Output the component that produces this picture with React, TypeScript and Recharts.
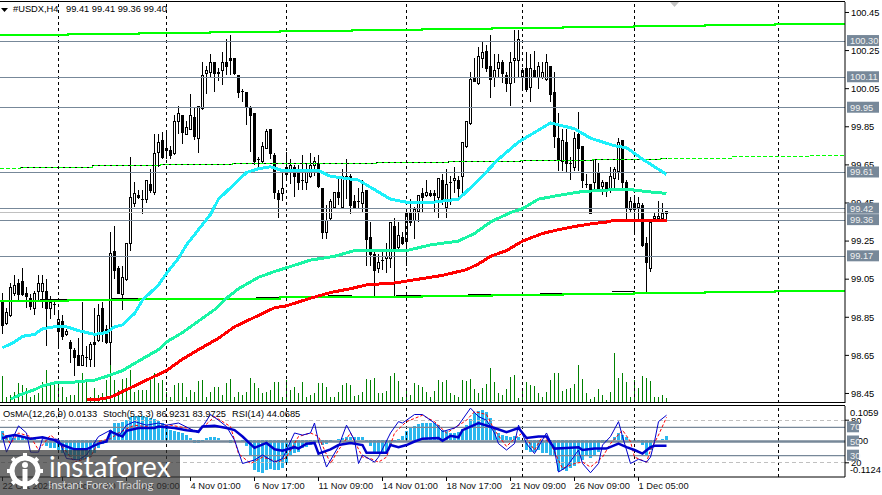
import { ComposedChart, Bar, Line, XAxis, YAxis, ReferenceLine } from "recharts";

const FONT = "Liberation Sans";
const TEXT_SIZE = 9.3;
const SLATE = "#778899";

// H4 candles of #USDX, one entry per bar
const opens = [
  98.93,98.82,98.86,98.98,99.03,99.04,98.98,98.95,98.90,98.99,
  98.99,98.99,98.90,98.92,98.78,98.83,98.76,98.72,98.68,98.65,
  98.60,98.64,98.63,98.72,98.73,98.90,98.79,98.72,99.20,99.11,
  98.97,99.05,99.24,99.45,99.49,99.47,99.47,99.55,99.51,99.72,
  99.78,99.73,99.73,99.71,99.88,99.91,99.81,99.84,99.90,99.79,
  99.95,100.13,100.14,100.19,100.13,100.15,100.19,100.21,100.21,100.12,
  100.04,100.03,99.95,99.92,99.68,99.67,99.74,99.84,99.70,99.50,
  99.50,99.60,99.62,99.64,99.61,99.57,99.56,99.59,99.65,99.66,
  99.53,99.30,99.37,99.43,99.51,99.43,99.59,99.59,99.46,99.46,
  99.45,99.52,99.27,99.18,99.11,99.15,99.16,99.16,99.33,99.22,
  99.27,99.25,99.40,99.36,99.41,99.50,99.49,99.50,99.50,99.48,
  99.57,99.43,99.56,99.57,99.57,99.59,99.75,99.87,100.11,100.08,
  100.21,100.25,100.17,100.11,100.16,100.19,100.12,100.08,100.20,100.20,
  100.11,100.16,100.06,100.15,100.11,100.11,100.10,100.17,100.03,99.79,
  99.67,99.77,99.66,99.64,99.81,99.75,99.55,99.55,99.56,99.61,
  99.54,99.56,99.53,99.58,99.62,99.78,99.56,99.42,99.45,99.43,
  99.44,99.24,99.11,99.37,99.37,99.37,99.41,
];
const highs = [
  98.98,98.90,99.03,99.07,99.05,99.11,99.01,98.97,98.99,99.07,
  99.07,99.05,98.96,98.93,98.89,98.86,98.79,98.73,98.69,98.74,
  98.93,98.70,98.72,98.90,98.92,98.93,98.81,99.30,99.33,99.12,
  99.12,99.24,99.69,99.56,99.52,99.52,99.57,99.63,99.81,99.81,
  99.82,99.82,99.75,99.91,99.96,99.91,99.88,100.02,99.95,99.96,
  100.19,100.17,100.23,100.19,100.16,100.24,100.31,100.33,100.21,100.12,
  100.05,100.03,99.96,99.92,99.69,99.77,99.84,99.84,99.71,99.52,
  99.61,99.72,99.68,99.65,99.65,99.70,99.66,99.71,99.69,99.70,
  99.53,99.44,99.47,99.51,99.59,99.63,99.68,99.60,99.49,99.53,
  99.57,99.52,99.35,99.21,99.18,99.20,99.24,99.35,99.37,99.35,
  99.30,99.41,99.47,99.43,99.49,99.53,99.57,99.52,99.52,99.58,
  99.60,99.63,99.59,99.64,99.59,99.77,99.88,100.14,100.21,100.27,
  100.30,100.28,100.33,100.23,100.23,100.20,100.14,100.24,100.36,100.36,
  100.16,100.24,100.23,100.25,100.19,100.19,100.23,100.17,100.14,99.92,
  99.84,99.84,99.69,99.82,99.93,99.75,99.60,99.55,99.68,99.66,
  99.57,99.56,99.64,99.64,99.79,99.78,99.57,99.48,99.49,99.48,
  99.45,99.27,99.36,99.40,99.46,99.45,99.41,
];
const lows = [
  98.76,98.81,98.85,98.96,98.94,98.96,98.90,98.89,98.86,98.94,
  98.90,98.70,98.84,98.86,98.70,98.73,98.75,98.61,98.54,98.60,
  98.60,98.59,98.59,98.59,98.72,98.72,98.71,98.60,99.05,98.97,
  98.89,99.04,99.20,99.43,99.47,99.39,99.45,99.50,99.49,99.64,
  99.68,99.68,99.68,99.70,99.81,99.76,99.81,99.84,99.78,99.71,
  99.94,100.02,100.11,100.03,100.09,100.07,100.12,100.12,100.12,100.00,
  99.98,99.86,99.72,99.65,99.64,99.66,99.74,99.68,99.47,99.37,
  99.46,99.57,99.55,99.48,99.52,99.52,99.52,99.58,99.59,99.53,
  99.26,99.26,99.36,99.43,99.44,99.42,99.47,99.39,99.42,99.42,
  99.40,99.12,99.12,98.96,99.08,99.10,99.08,99.11,98.96,99.21,
  99.23,99.12,99.33,99.26,99.35,99.40,99.48,99.48,99.40,99.37,
  99.44,99.37,99.44,99.50,99.48,99.48,99.74,99.86,100.09,100.07,
  100.16,100.14,100.00,100.06,100.11,100.08,100.03,99.96,100.08,100.11,
  100.04,100.03,99.98,100.11,100.05,100.10,100.09,99.98,99.74,99.62,
  99.62,99.61,99.57,99.62,99.62,99.53,99.53,99.40,99.52,99.51,
  99.49,99.48,99.50,99.53,99.57,99.52,99.35,99.40,99.28,99.36,
  99.22,98.98,99.09,99.35,99.35,99.35,99.36,
];
const closes = [
  98.81,98.88,99.01,99.02,98.97,98.97,98.96,98.91,98.98,99.03,
  99.03,98.90,98.93,98.92,98.84,98.75,98.78,98.69,98.64,98.60,
  98.65,98.64,98.71,98.71,98.86,98.76,98.72,99.19,99.10,98.98,
  99.06,99.24,99.48,99.50,99.48,99.47,99.57,99.52,99.71,99.77,
  99.69,99.74,99.70,99.88,99.92,99.82,99.85,99.91,99.80,99.96,
  100.12,100.15,100.19,100.13,100.14,100.19,100.17,100.20,100.13,100.03,
  100.04,99.96,99.91,99.67,99.68,99.75,99.83,99.71,99.51,99.47,
  99.53,99.64,99.65,99.59,99.56,99.57,99.61,99.65,99.67,99.54,
  99.30,99.36,99.46,99.51,99.48,99.59,99.59,99.44,99.43,99.46,
  99.51,99.26,99.18,99.10,99.14,99.15,99.17,99.35,99.21,99.28,
  99.24,99.40,99.35,99.42,99.49,99.48,99.51,99.49,99.49,99.58,
  99.46,99.55,99.56,99.58,99.53,99.77,99.88,100.10,100.09,100.22,
  100.24,100.16,100.10,100.15,100.19,100.13,100.08,100.19,100.21,100.31,
  100.15,100.05,100.16,100.11,100.17,100.14,100.19,100.02,99.80,99.68,
  99.78,99.66,99.66,99.79,99.74,99.57,99.55,99.40,99.68,99.52,
  99.56,99.53,99.59,99.63,99.77,99.56,99.43,99.46,99.42,99.45,
  99.23,99.14,99.35,99.38,99.38,99.40,99.40,
];
// tick volume, in the height it has on the panel
const volumes = [
  27,6,8,11,20,18,15,6,8,10,
  21,33,18,21,21,16,6,8,8,20,
  30,21,6,15,8,10,23,40,23,13,
  24,25,33,11,13,13,13,25,30,20,
  23,11,6,18,20,20,6,13,11,22,
  23,6,11,16,16,8,20,24,6,11,
  8,11,25,20,15,10,11,13,21,21,
  6,23,13,16,10,21,6,8,10,20,
  20,16,6,6,11,18,20,18,7,8,
  11,24,23,25,10,10,12,27,30,22,
  6,13,8,20,18,16,11,6,12,23,
  21,23,10,8,6,23,22,24,14,10,
  15,19,35,21,10,8,14,26,28,5,
  15,21,18,17,10,6,11,23,30,30,
  12,14,15,19,38,24,10,4,6,14,
  8,3,11,50,25,30,21,6,23,15,
  27,25,22,6,6,8,5,
];
const osmaValues = [
  0.030,0.017,0.010,0.007,0.010,0.012,0.010,0.004,0.004,0.000,
  0.002,-0.018,-0.022,-0.022,-0.029,-0.039,-0.049,-0.051,-0.057,-0.059,
  -0.059,-0.057,-0.051,-0.039,-0.024,-0.011,-0.008,0.033,0.053,0.053,
  0.058,0.062,0.072,0.074,0.074,0.074,0.072,0.069,0.066,0.061,
  0.053,0.043,0.033,0.028,0.025,0.023,0.017,0.007,-0.008,-0.008,
  -0.003,0.007,0.010,0.010,0.007,0.002,0.000,-0.008,0.000,0.000,
  -0.003,-0.018,-0.049,-0.090,-0.098,-0.101,-0.090,-0.088,-0.090,-0.090,
  -0.085,-0.070,-0.049,-0.039,-0.034,-0.024,-0.019,-0.013,-0.008,-0.006,
  -0.013,-0.010,-0.006,0.000,0.004,0.007,0.010,0.010,0.010,0.010,
  0.010,-0.003,-0.018,-0.039,-0.041,-0.041,-0.039,-0.013,-0.006,0.004,
  0.014,0.028,0.038,0.045,0.051,0.053,0.053,0.053,0.053,0.048,
  0.033,0.028,0.023,0.023,0.025,0.035,0.048,0.066,0.084,0.089,
  0.094,0.086,0.069,0.038,0.023,0.017,0.014,0.012,0.014,0.010,
  -0.003,-0.029,-0.034,-0.037,-0.029,-0.039,-0.039,-0.044,-0.049,-0.095,
  -0.090,-0.095,-0.085,-0.080,-0.065,-0.059,-0.044,-0.054,-0.049,-0.034,
  -0.008,-0.003,0.000,0.012,0.023,0.017,0.010,0.002,-0.006,-0.006,
  -0.013,-0.044,-0.029,-0.003,0.000,0.004,0.013,
];

// moving averages, read at bars along the curve
const fastMaBars = [0,3,5,8,10,13,16,19,23,26,28,30,33,35,39,41,44,46,49,52,54,57,61,64,67,70,74,79,82,89,93,97,102,106,114,119,124,129,137,143,147,153,156,160,166];
const fastMaPrices = [98.69,98.72,98.75,98.76,98.79,98.80,98.80,98.78,98.76,98.77,98.80,98.81,98.87,98.94,99.02,99.08,99.16,99.23,99.31,99.39,99.47,99.53,99.61,99.63,99.64,99.62,99.62,99.62,99.59,99.57,99.52,99.47,99.45,99.45,99.47,99.57,99.68,99.77,99.87,99.84,99.79,99.75,99.74,99.68,99.60];
const midMaBars = [2,4,8,10,14,18,23,26,30,34,39,41,45,49,53,56,59,64,68,71,74,77,83,88,93,101,107,114,118,122,127,130,134,139,145,153,157,161,166];
const midMaPrices = [98.42,98.44,98.47,98.49,98.51,98.51,98.52,98.54,98.57,98.62,98.68,98.72,98.77,98.83,98.89,98.95,99.00,99.06,99.09,99.11,99.13,99.15,99.17,99.20,99.20,99.20,99.23,99.25,99.29,99.35,99.40,99.42,99.47,99.49,99.51,99.52,99.52,99.51,99.50];
const slowMaBars = [21,24,27,31,35,39,41,45,49,54,58,64,68,71,74,77,82,87,91,98,104,110,116,119,122,126,130,135,139,144,147,151,153,159,166];
const slowMaPrices = [98.42,98.42,98.43,98.47,98.51,98.55,98.57,98.63,98.68,98.74,98.80,98.86,98.90,98.91,98.93,98.95,98.98,99.00,99.02,99.03,99.05,99.07,99.10,99.13,99.17,99.20,99.25,99.29,99.31,99.33,99.34,99.35,99.36,99.36,99.36];

// stepped channel lines
const channelBars = [-0.625,16.4,34.1,51.9,69.4,87.3,104.8,122.4,140,157.9,175.5,193.1,210.625];
const upperPrices = [100.334,100.339,100.344,100.35,100.355,100.36,100.365,100.371,100.376,100.381,100.386,100.39,100.39];
const lowerPrices = [98.934,98.939,98.945,98.948,98.955,98.958,98.963,98.967,98.972,98.979,98.984,98.99,98.99];
const middleBars = [-0.625,4.4,22.4,39.4,57.4,75.6,93.6,111.4,129.4,147.4,164.4,182.6,201.4,210.625];
const middlePrices = [99.632,99.638,99.645,99.65,99.655,99.659,99.664,99.669,99.674,99.68,99.686,99.692,99.697,99.697];
const blackMiddleBars = [4.4,22.4,39.4,57.4,75.6,93.6,111.4,129.4,147.4,164.4,166];
const blackMiddlePrices = [99.638,99.645,99.65,99.655,99.659,99.664,99.669,99.674,99.68,99.686,99.686];
const blackLowerBars = [9.4,16.6,17,27.4,34,34.5,45.4,52,52.5,63.4,69.4,70,81.4,87.4,88,98.4,104.9,105.5,116.4,122.4,123,134.4,140.1,141,152.4,158];
const blackLowerPrices = [98.941,98.941,null,98.946,98.946,null,98.95,98.95,null,98.955,98.955,null,98.962,98.962,null,98.966,98.966,null,98.971,98.971,null,98.976,98.976,null,98.983,98.983];

// oscillators in the lower panel
const rsiBars = [0,1,3,4,7,10,13,15,18,21,24,26,27,30,31,34,38,39,43,46,49,50,53,56,58,60,63,66,68,70,73,74,76,78,79,82,84,87,90,91,96,97,99,101,103,105,109,110,112,114,115,119,123,126,129,131,134,136,138,141,144,145,148,151,154,156,158,160,162,163,166];
const rsiValues = [54,57,59,58,54,56,52,45,39,39,47,50,64,57,65,69,69,71,69,66,64,71,72,69,66,57,41,48,39,37,42,40,47,48,33,39,45,48,45,34,34,45,42,45,50,54,55,51,58,56,66,76,69,63,69,55,57,57,40,41,42,38,40,40,47,42,38,33,42,44,44];
const stochBars = [0,1,4,6,7,9,10,14,16,19,21,24,27,29,31,33,36,39,41,44,49,52,54,56,58,60,63,65,68,70,73,75,77,78,79,81,84,86,88,89,90,93,94,97,99,100,103,105,108,110,113,114,117,119,121,123,124,126,128,129,131,133,136,138,139,141,144,145,147,149,150,152,154,155,157,159,161,162,163,164,166];
const stochValues = [57,35,72,62,35,35,54,53,26,24,31,57,66,57,73,78,73,76,73,76,62,88,80,71,52,19,24,31,21,26,62,59,62,76,50,14,43,73,52,19,31,21,28,62,78,76,88,88,76,64,69,73,97,85,80,62,47,38,47,73,47,33,62,38,7,14,38,19,6,19,45,57,78,57,19,25,21,28,50,78,87];
const signalBars = [0,2,4,7,9,12,14,18,22,24,27,29,33,37,42,46,49,53,57,59,62,65,69,71,74,77,79,82,84,87,90,92,94,96,98,101,105,108,111,113,116,118,121,123,126,128,130,133,135,137,140,143,145,147,150,152,155,157,158,161,162,164,166];
const signalValues = [62,47,62,57,38,59,50,21,28,50,54,62,73,70,73,69,64,85,71,33,19,28,21,28,57,62,57,19,38,62,28,26,21,28,62,78,87,78,62,69,80,92,88,66,43,54,62,38,57,47,12,19,21,14,28,47,66,50,28,21,38,59,84];

const priceTicks = [100.45,100.25,100.05,99.85,99.65,99.45,99.25,99.05,98.85,98.65,98.45];
const priceLevels = [100.30,100.11,99.95,99.61,99.42,99.36,99.17];
const currentPrice = 99.40;
const oscLevels = [70,50,30];
const separatorBars = [14,41,71,101,130,158,194];
const timeTicks = [0,15,31,47,63,79,95,111,127,143,159];
const timeLabels = ["22 Oct 2025","27 Oct 17:00","30 Oct 09:00","4 Nov 01:00","6 Nov 17:00","11 Nov 09:00","14 Nov 01:00","18 Nov 17:00","21 Nov 09:00","26 Nov 09:00","1 Dec 05:00"];

const candles = opens.map((open, i) => ({ i, open, high: highs[i], low: lows[i], close: closes[i], volume: volumes[i] }));
const osmaRows = osmaValues.map((osma, i) => ({ i, osma }));
const toLine = (bars: number[], prices: (number | null)[]) => bars.map((i, n) => ({ i, price: prices[n] }));

const barDomain: [number, number] = [-0.625, 210.625];
const priceDomain: [number, number] = [98.4, 100.505];

function CandleShape(props: any) {
  const { x, y, width, height, payload } = props;
  const { open, high, low, close } = payload;
  const perUnit = height / (high - low);
  const cx = Math.floor(x + width / 2) + 0.5;
  const top = Math.round(y + (high - Math.max(open, close)) * perUnit);
  const bottom = Math.round(y + (high - Math.min(open, close)) * perUnit);
  const bull = close >= open;
  return (
    <g shapeRendering="crispEdges">
      <line x1={cx} x2={cx} y1={y} y2={y + height} stroke="#000" />
      {bottom - top < 1 ? (
        <line x1={cx - 1.5} x2={cx + 1.5} y1={top + 0.5} y2={top + 0.5} stroke="#000" />
      ) : (
        <rect x={cx - 1} y={top + 0.5} width={2} height={bottom - top} fill={bull ? "#fff" : "#000"} stroke="#000" />
      )}
    </g>
  );
}

function VolumeShape({ x, y, width, height }: any) {
  return <rect x={Math.floor(x + width / 2)} y={y} width={1} height={height} fill="#008000" shapeRendering="crispEdges" />;
}

// negative values come in with a negative height
function OsmaShape({ x, y, width, height }: any) {
  return (
    <rect
      x={Math.floor(x + width / 2) - 1}
      y={Math.min(y, y + height)}
      width={3}
      height={Math.abs(height)}
      fill="#2bb7ee"
      shapeRendering="crispEdges"
    />
  );
}

function PriceTag({ viewBox, text, boxWidth = 32, dy = -6 }: any) {
  const right = viewBox.x + viewBox.width;
  return (
    <g>
      <rect x={right + 2} y={viewBox.y + dy} width={boxWidth} height={11} fill={SLATE} />
      <text x={right + 5} y={viewBox.y + dy + 9} fontSize={TEXT_SIZE} fontFamily={FONT} fill="#f0f0f0">
        {text}
      </text>
    </g>
  );
}

function AxisNote({ viewBox, text, dy }: any) {
  return (
    <text x={viewBox.x + viewBox.width + 5} y={viewBox.y + dy} fontSize={TEXT_SIZE} fontFamily={FONT} fill="#000">
      {text}
    </text>
  );
}

function TimeTick({ x, y, payload }: any) {
  const label = timeLabels[timeTicks.indexOf(payload.value)];
  return (
    <text x={x} y={y + 6} fontSize={TEXT_SIZE} fontFamily={FONT} fill="#111" textAnchor="start">
      {label}
    </text>
  );
}

function Watermark() {
  const spokes = [0, 45, 90, 135];
  return (
    <div style={{ position: "absolute", left: 0, top: 450, width: 180, height: 45, background: "rgba(50,50,50,0.7)", overflow: "hidden" }}>
      <svg width={48} height={45} style={{ position: "absolute", left: 0, top: 0 }}>
        <circle cx={25} cy={21} r={13} fill="none" stroke="#fff" strokeWidth={5} />
        {spokes.map((a) => (
          <line key={a} x1={25} y1={3} x2={25} y2={39} stroke="#fff" strokeWidth={4} strokeDasharray="5 26 5" transform={`rotate(${a} 25 21)`} />
        ))}
        <circle cx={25} cy={15} r={3} fill="#fff" />
        <rect x={22.5} y={19} width={5} height={14} fill="#fff" />
      </svg>
      <div style={{ position: "absolute", left: 49, top: -3, fontFamily: "Lato", fontSize: 28, color: "#fff", whiteSpace: "nowrap", lineHeight: "38px" }}>instaforex</div>
      <div style={{ position: "absolute", left: 48, top: 28, fontFamily: "Lato", fontSize: 11.5, color: "rgba(255,255,255,0.75)", whiteSpace: "nowrap", lineHeight: "14px" }}>Instant Forex Trading</div>
    </div>
  );
}

const headerStyle: React.CSSProperties = { position: "absolute", fontFamily: FONT, fontSize: TEXT_SIZE, color: "#000", whiteSpace: "pre", lineHeight: "11px" };

export default function App() {
  return (
    <div style={{ position: "absolute", left: 0, top: 0, width: 882, height: 495, background: "#fff", overflow: "hidden" }}>
      {/* price panel */}
      <div style={{ position: "absolute", left: 0, top: 0 }}>
        <ComposedChart width={882} height={403} data={candles} margin={{ top: 2, right: 0, bottom: 0, left: 0 }}>
          <XAxis xAxisId="bars" dataKey="i" type="number" domain={barDomain} allowDataOverflow hide />
          <XAxis xAxisId="vol" dataKey="i" type="number" domain={barDomain} allowDataOverflow hide />
          <YAxis
            yAxisId="price"
            orientation="right"
            width={37}
            domain={priceDomain}
            allowDataOverflow
            ticks={priceTicks}
            interval={0}
            tickSize={4}
            tickMargin={2}
            tickFormatter={(v: number) => v.toFixed(2)}
            tick={{ fontSize: TEXT_SIZE, fontFamily: FONT, fill: "#000" }}
            stroke="#000"
          />
          <YAxis yAxisId="vol" domain={[0, 401]} hide />
          {separatorBars.map((b) => (
            <ReferenceLine key={b} xAxisId="bars" yAxisId="price" x={b} stroke="#000" strokeDasharray="3 3" shapeRendering="crispEdges" />
          ))}
          {priceLevels.map((p) => (
            <ReferenceLine key={p} xAxisId="bars" yAxisId="price" y={p} stroke={SLATE} shapeRendering="crispEdges" />
          ))}
          <ReferenceLine xAxisId="bars" yAxisId="price" y={currentPrice} stroke="#c0c0c0" shapeRendering="crispEdges" />
          <Bar xAxisId="vol" yAxisId="vol" dataKey="volume" barSize={1} shape={<VolumeShape />} isAnimationActive={false} />
          <Bar
            xAxisId="bars"
            yAxisId="price"
            dataKey={(d: any) => [d.low, d.high]}
            barSize={3}
            shape={<CandleShape />}
            isAnimationActive={false}
          />
          <Line xAxisId="bars" yAxisId="price" data={toLine(channelBars, upperPrices)} dataKey="price" type="stepAfter" stroke="#00ff00" strokeWidth={2} shapeRendering="crispEdges" dot={false} isAnimationActive={false} />
          <Line xAxisId="bars" yAxisId="price" data={toLine(blackLowerBars, blackLowerPrices)} dataKey="price" type="linear" stroke="#000" strokeWidth={1} shapeRendering="crispEdges" dot={false} isAnimationActive={false} />
          <Line xAxisId="bars" yAxisId="price" data={toLine(channelBars, lowerPrices)} dataKey="price" type="stepAfter" stroke="#00ff00" strokeWidth={2} shapeRendering="crispEdges" dot={false} isAnimationActive={false} />
          <Line xAxisId="bars" yAxisId="price" data={toLine(blackMiddleBars, blackMiddlePrices)} dataKey="price" type="stepAfter" stroke="#000" strokeWidth={1} shapeRendering="crispEdges" dot={false} isAnimationActive={false} />
          <Line xAxisId="bars" yAxisId="price" data={toLine(middleBars, middlePrices)} dataKey="price" type="stepAfter" stroke="#00ff00" strokeWidth={1} strokeDasharray="4 2" shapeRendering="crispEdges" dot={false} isAnimationActive={false} />
          <Line xAxisId="bars" yAxisId="price" data={toLine(slowMaBars, slowMaPrices)} dataKey="price" stroke="#ff0000" strokeWidth={3} shapeRendering="crispEdges" dot={false} isAnimationActive={false} />
          <Line xAxisId="bars" yAxisId="price" data={toLine(midMaBars, midMaPrices)} dataKey="price" stroke="#19f5a5" strokeWidth={3} shapeRendering="crispEdges" dot={false} isAnimationActive={false} />
          <Line xAxisId="bars" yAxisId="price" data={toLine(fastMaBars, fastMaPrices)} dataKey="price" stroke="#1cf0fa" strokeWidth={3} shapeRendering="crispEdges" dot={false} isAnimationActive={false} />
        </ComposedChart>
      </div>
      {/* price tags have to sit over the axis labels, so they get their own layer */}
      <div style={{ position: "absolute", left: 0, top: 0, pointerEvents: "none" }}>
        <ComposedChart width={882} height={403} data={candles} margin={{ top: 2, right: 37, bottom: 0, left: 0 }}>
          <XAxis dataKey="i" type="number" domain={barDomain} allowDataOverflow hide />
          <YAxis domain={priceDomain} allowDataOverflow hide />
          {priceLevels.map((p) => (
            <ReferenceLine key={p} y={p} stroke="none" label={<PriceTag text={p.toFixed(2)} />} />
          ))}
        </ComposedChart>
      </div>
      <div style={{ position: "absolute", left: 0, top: 1, width: 845, height: 402, borderTop: "1px solid #000", borderBottom: "1px solid #000", pointerEvents: "none", boxSizing: "border-box" }} />
      <svg width={14} height={10} style={{ position: "absolute", left: 0, top: 6 }}>
        <polygon points="1,2 8,2 4.5,6" fill="#000" />
      </svg>
      <svg width={12} height={8} style={{ position: "absolute", left: 669, top: 1 }}>
        <polygon points="1,1 10,1 5.5,6" fill="#c4c4c4" />
      </svg>
      <div style={{ ...headerStyle, left: 13, top: 4 }}>#USDX,H4</div>
      <div style={{ ...headerStyle, left: 66, top: 4 }}>99.41 99.41 99.36 99.40</div>

      {/* oscillator panel */}
      <div style={{ position: "absolute", left: 0, top: 405 }}>
        <ComposedChart width={882} height={90} data={osmaRows} margin={{ top: 1, right: 0, bottom: 0, left: 0 }}>
          <XAxis
            dataKey="i"
            type="number"
            domain={barDomain}
            allowDataOverflow
            ticks={timeTicks}
            interval={0}
            height={18}
            tickSize={4}
            tick={<TimeTick />}
            stroke="#000"
          />
          <YAxis
            yAxisId="stoch"
            orientation="right"
            width={37}
            domain={[0, 100]}
            ticks={[20, 80]}
            interval={0}
            tickSize={4}
            tickMargin={2}
            tick={{ fontSize: TEXT_SIZE, fontFamily: FONT, fill: "#000" }}
            stroke="#000"
          />
          <YAxis yAxisId="osma" domain={[-0.1124, 0.1059]} allowDataOverflow hide />
          {separatorBars.map((b) => (
            <ReferenceLine key={b} yAxisId="stoch" x={b} stroke="#000" strokeDasharray="3 3" shapeRendering="crispEdges" />
          ))}
          <ReferenceLine yAxisId="stoch" y={80} stroke="#c0c0c0" strokeDasharray="4 3" shapeRendering="crispEdges" />
          <ReferenceLine yAxisId="stoch" y={20} stroke="#c0c0c0" strokeDasharray="4 3" shapeRendering="crispEdges" />
          <ReferenceLine yAxisId="osma" y={0.1059} stroke="none" label={<AxisNote text="0.1059" dy={10} />} />
          <ReferenceLine yAxisId="osma" y={0} stroke="none" label={<AxisNote text="0.00" dy={3.5} />} />
          <ReferenceLine yAxisId="osma" y={-0.1124} stroke="none" label={<AxisNote text="-0.1124" dy={-4} />} />
          <Bar yAxisId="osma" dataKey="osma" barSize={3} shape={<OsmaShape />} isAnimationActive={false} />
          <ReferenceLine yAxisId="stoch" y={70} stroke={SLATE} strokeWidth={1.3} />
          <ReferenceLine yAxisId="stoch" y={50} stroke={SLATE} strokeWidth={2.5} />
          <ReferenceLine yAxisId="stoch" y={30} stroke={SLATE} strokeWidth={1.3} />
          <Line yAxisId="stoch" data={toLine(signalBars, signalValues)} dataKey="price" stroke="#ff0000" strokeWidth={1} strokeDasharray="3 2" dot={false} isAnimationActive={false} />
          <Line yAxisId="stoch" data={toLine(stochBars, stochValues)} dataKey="price" stroke="#0000cd" strokeWidth={1} dot={false} isAnimationActive={false} />
          <Line yAxisId="stoch" data={toLine(rsiBars, rsiValues)} dataKey="price" stroke="#0000cd" strokeWidth={2.5} dot={false} isAnimationActive={false} />
        </ComposedChart>
      </div>
      <div style={{ position: "absolute", left: 0, top: 405, pointerEvents: "none" }}>
        <ComposedChart width={882} height={90} data={osmaRows} margin={{ top: 1, right: 37, bottom: 18, left: 0 }}>
          <XAxis dataKey="i" type="number" domain={barDomain} allowDataOverflow hide />
          <YAxis domain={[0, 100]} allowDataOverflow hide />
          {oscLevels.map((v) => (
            <ReferenceLine key={v} y={v} stroke="none" label={<PriceTag text={String(v)} boxWidth={12} />} />
          ))}
        </ComposedChart>
      </div>
      <div style={{ position: "absolute", left: 0, top: 405, width: 845, borderTop: "1px solid #000", pointerEvents: "none" }} />
      <div style={{ ...headerStyle, left: 3, top: 409 }}>OsMA(12,26,9) 0.0133</div>
      <div style={{ ...headerStyle, left: 103, top: 409 }}>Stoch(5,3,3) 86.9231 83.9725</div>
      <div style={{ ...headerStyle, left: 232, top: 409 }}>RSI(14) 44.0685</div>
      <Watermark />
    </div>
  );
}
